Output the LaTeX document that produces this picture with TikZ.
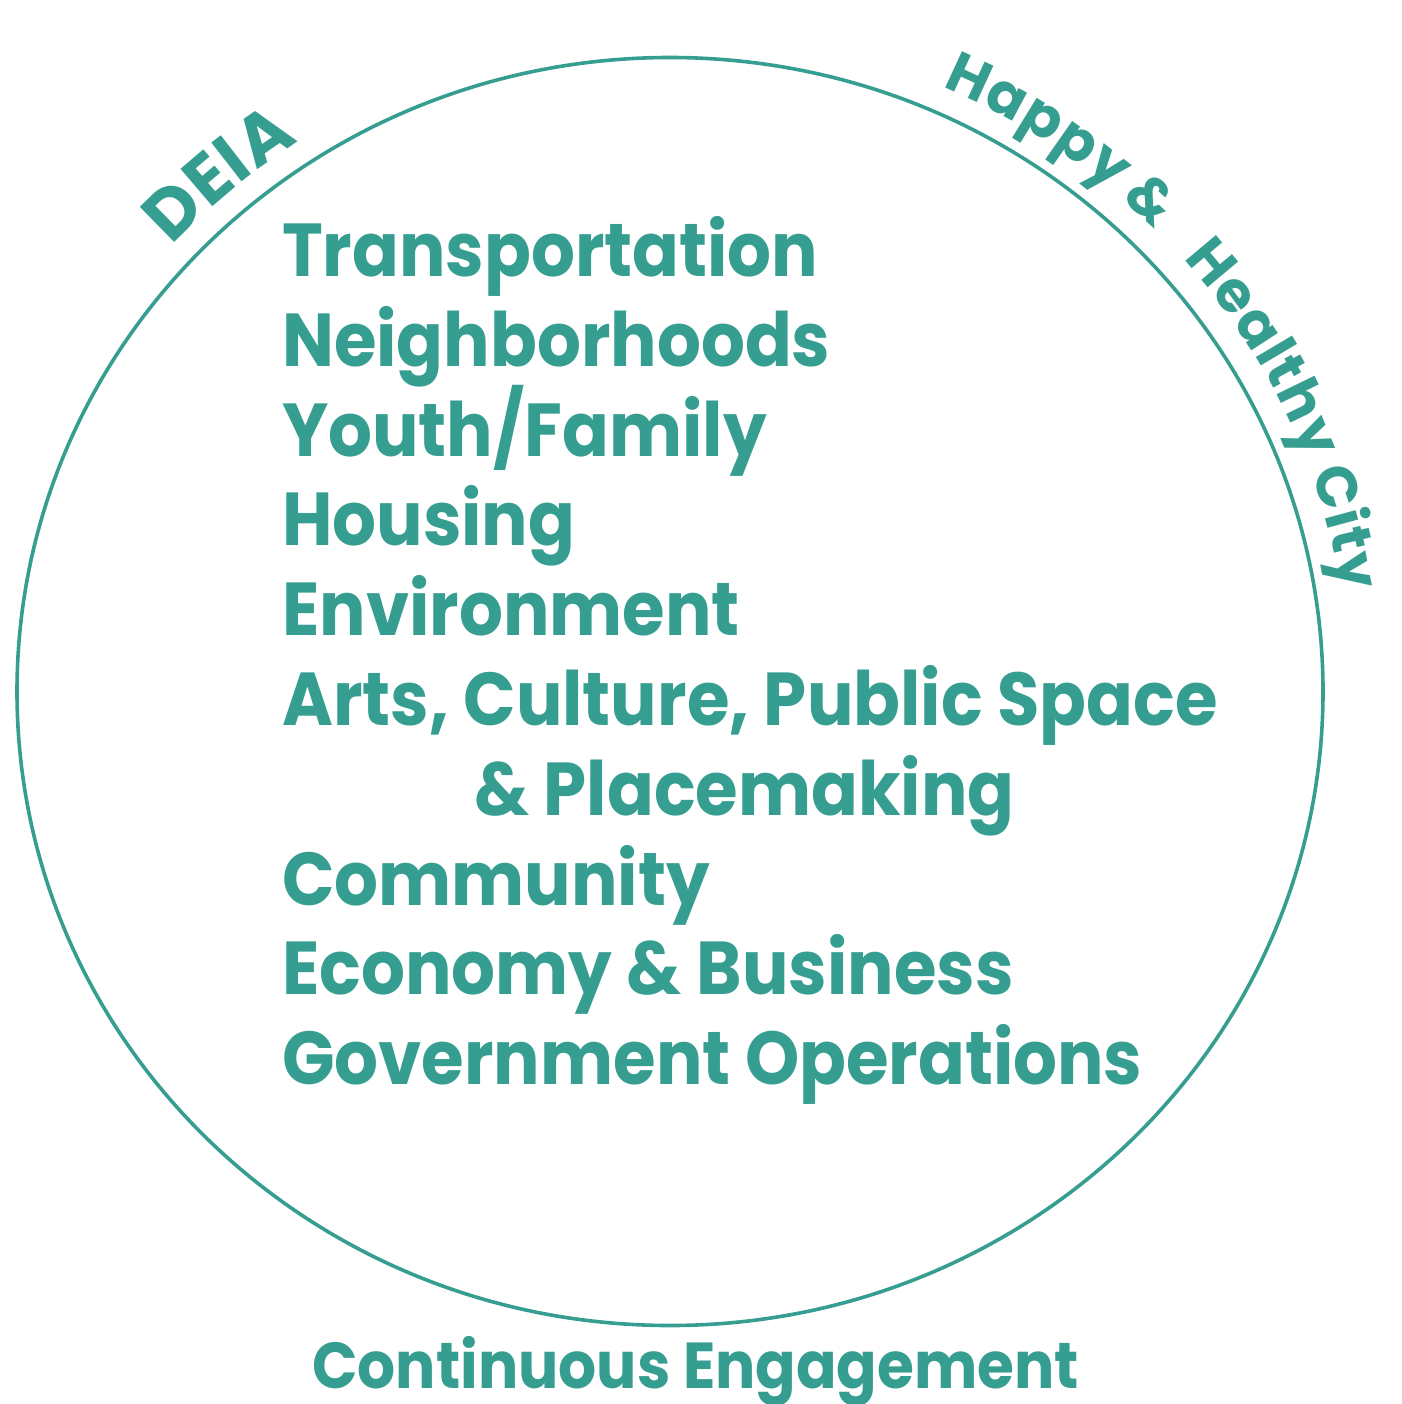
\documentclass[tikz,border=0pt]{standalone}
\usepackage{fontspec}
\setmainfont{Poppins}
\usetikzlibrary{decorations.text}
\definecolor{teal1}{RGB}{54,158,144}
\newcommand{\mainfnt}{\fontsize{75}{80}\selectfont\bfseries}
\newcommand{\deiafnt}{\fontsize{70}{76}\selectfont\bfseries}
\newcommand{\arcfnt}{\fontsize{57}{64}\selectfont\bfseries}
\newcommand{\botfnt}{\fontsize{65}{70}\selectfont\bfseries}
\begin{document}
\begin{tikzpicture}[x=1pt,y=1pt,
  item/.style={anchor=base west,inner sep=0pt,text=teal1,font=\mainfnt,xscale=0.92},
  arcword/.style 2 args={decorate,decoration={text along path,raise=26pt,
    text align=left,text color=teal1,text={|\arcfnt|#2}}}]
\useasboundingbox (0,0) rectangle (1401,-1404);
\coordinate (c) at (670,-691.5);
\draw[teal1,line width=3.6pt] (c) ellipse [x radius=653, y radius=634];
% curved labels
\path[arcword={}{Happy}] (c) ++(66.4:653 and 634) arc[start angle=66.4,end angle=40,x radius=653,y radius=634];
\path[arcword={}{{\&}}] (c) ++(48.4:653 and 634) arc[start angle=48.4,end angle=30,x radius=653,y radius=634];
\path[arcword={}{Healthy}] (c) ++(41.0:653 and 634) arc[start angle=41.0,end angle=10,x radius=653,y radius=634];
\path[arcword={}{City}] (c) ++(19.4:653 and 634) arc[start angle=19.4,end angle=0,x radius=653,y radius=634];
\path[decorate,decoration={text along path,raise=24pt,text align=left,
  text color=teal1,text={|\deiafnt|DEIA}}]
  (c) ++(137.5:653 and 634) arc[start angle=137.5,end angle=105,x radius=653,y radius=634];
% list
\node[item] (t1) at (282,-276.5) {Transportation};
\node[item] (t2) at (282,-366.3) {Neighborhoods};
\node[item] (t3) at (282,-456.1) {Youth/Family};
\node[item] (t4) at (282,-545.9) {Housing};
\node[item] (t5) at (282,-635.7) {Environment};
\node[item] (t6) at (282,-725.5) {Arts, Culture, Public Space};
\node[item] (t7) at (474,-815.3) {\& Placemaking};
\node[item] (t8) at (282,-905.1) {Community};
\node[item] (t9) at (282,-994.9) {Economy \& Business};
\node[item] (t10) at (282,-1084.7) {Government Operations};
\node[item,font=\botfnt] (ce) at (312,-1388) {Continuous Engagement};
\end{tikzpicture}
\end{document}
